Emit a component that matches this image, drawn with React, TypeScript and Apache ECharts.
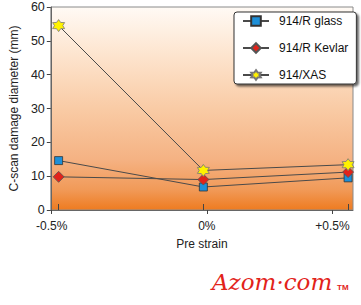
import React, { useEffect, useRef } from "react";
import * as echarts from "echarts";

const strainValues = [-0.5, 0, 0.5];
const tickLabels = ["-0.5%", "0%", "+0.5%"];
const labelPositions = [-0.524, 0.012, 0.446];
const glass = [14.6, 6.8, 9.5];
const kevlar = [9.8, 9.0, 11.2];
const xas = [54.5, 11.7, 13.4];
const seriesNames = ["914/R glass", "914/R Kevlar", "914/XAS"];

function starPath(): string {
  const pts: string[] = [];
  for (let i = 0; i < 12; i++) {
    const r = i % 2 === 0 ? 50 : 30;
    const a = (Math.PI / 6) * i - Math.PI / 2;
    const x = (50 + r * Math.cos(a)).toFixed(2);
    const y = (50 + r * Math.sin(a)).toFixed(2);
    pts.push((i === 0 ? "M" : "L") + x + " " + y);
  }
  return "path://" + pts.join(" ") + " Z";
}

export default function App() {
  const ref = useRef<HTMLDivElement>(null);
  useEffect(() => {
    if (!ref.current) return;
    const chart = echarts.init(ref.current, null, { renderer: "svg" });
    const font = "Liberation Sans, Arial, sans-serif";
    const mk = (vals: number[]) => strainValues.map((x, i) => [x, vals[i]]);
    const lineStyle = { color: "#4a4a4a", width: 1 };
    chart.setOption({
      animation: false,
      textStyle: { fontFamily: font },
      grid: {
        left: 45,
        top: 7,
        width: 308,
        height: 203,
        show: true,
        borderColor: "#8a8a8a",
        borderWidth: 1,
        backgroundColor: new echarts.graphic.LinearGradient(0, 0, 0, 1, [
          { offset: 0, color: "#fffaf5" },
          { offset: 0.25, color: "#fde3cc" },
          { offset: 0.5, color: "#f9cba5" },
          { offset: 0.75, color: "#f5b283" },
          { offset: 0.9, color: "#f19a58" },
          { offset: 1, color: "#ee7b20" },
        ]),
      },
      legend: {
        orient: "vertical",
        left: 234,
        top: 12,
        width: 114,
        padding: [3, 8, 3, 8],
        itemWidth: 26,
        itemHeight: 12,
        itemGap: 15,
        backgroundColor: "#ffffff",
        borderColor: "#333",
        borderWidth: 1,
        borderRadius: 3,
        shadowColor: "rgba(0,0,0,0.6)",
        shadowBlur: 2,
        shadowOffsetX: 2,
        shadowOffsetY: 2,
        textStyle: { fontFamily: font, fontSize: 12, color: "#111", padding: [0, 0, 0, 5] },
        data: seriesNames,
      },
      xAxis: [
        {
          type: "value",
          min: -0.527,
          max: 0.517,
          position: "bottom",
          axisLine: { show: true, onZero: false, lineStyle: { color: "#666" } },
          splitLine: { show: false },
          axisTick: {
            show: true,
            inside: true,
            length: 6,
            customValues: strainValues,
            lineStyle: { color: "#444" },
          },
          axisLabel: { show: false },
        },
        {
          type: "value",
          min: -0.527,
          max: 0.517,
          position: "bottom",
          offset: 0,
          name: "Pre strain",
          nameLocation: "middle",
          nameGap: 28,
          nameTextStyle: { fontFamily: font, fontSize: 12, color: "#222" },
          axisLine: { show: false, onZero: false },
          splitLine: { show: false },
          axisTick: {
            show: true,
            inside: false,
            length: 4,
            customValues: labelPositions,
            lineStyle: { color: "#444" },
          },
          axisLabel: {
            show: true,
            customValues: labelPositions,
            margin: 10,
            fontFamily: font,
            fontSize: 12,
            color: "#222",
            formatter: (v: number) => {
              const i = labelPositions.findIndex((p) => Math.abs(p - v) < 1e-6);
              return i >= 0 ? tickLabels[i] : "";
            },
          },
        },
      ],
      yAxis: {
        type: "value",
        min: 0,
        max: 60,
        interval: 10,
        name: "C-scan damage diameter (mm)",
        nameLocation: "middle",
        nameGap: 27,
        nameTextStyle: { fontFamily: font, fontSize: 12, color: "#222" },
        axisLine: { show: true, onZero: false, lineStyle: { color: "#666" } },
        axisTick: { show: true, length: 4, lineStyle: { color: "#444" } },
        splitLine: { show: false },
        axisLabel: { margin: 6, fontFamily: font, fontSize: 12.5, color: "#222" },
      },
      series: [
        {
          name: seriesNames[0],
          type: "line",
          data: mk(glass),
          symbol: "rect",
          symbolSize: 8,
          lineStyle,
          itemStyle: { color: "#1d8fd8", borderColor: "#333", borderWidth: 0.8 },
          z: 3,
        },
        {
          name: seriesNames[1],
          type: "line",
          data: mk(kevlar),
          symbol: "diamond",
          symbolSize: [11, 11],
          lineStyle,
          itemStyle: { color: "#e2231a", borderColor: "#555", borderWidth: 0.8 },
          z: 4,
        },
        {
          name: seriesNames[2],
          type: "line",
          data: mk(xas),
          symbol: starPath(),
          symbolSize: 12,
          lineStyle,
          itemStyle: { color: "#fff200", borderColor: "#777", borderWidth: 0.8 },
          z: 5,
        },
      ],
      graphic: [
        {
          type: "text",
          left: 212,
          top: 270,
          style: {
            text: "Azom·com",
            fontFamily: "DejaVu Serif",
            fontStyle: "italic",
            fontSize: 23,
            fill: "#e2231a",
          },
        },
        {
          type: "text",
          left: 337,
          top: 283,
          style: {
            text: "TM",
            fontFamily: font,
            fontWeight: "bold",
            fontSize: 8,
            fill: "#e2231a",
          },
        },
      ],
    });
    return () => chart.dispose();
  }, []);
  return (
    <div
      ref={ref}
      style={{ position: "absolute", left: 0, top: 0, width: 361, height: 305 }}
    />
  );
}
